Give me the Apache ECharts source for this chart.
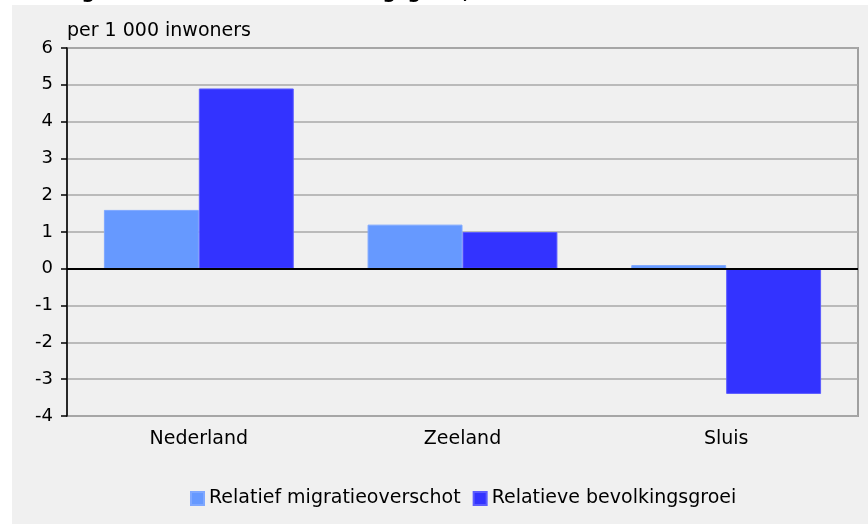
<!DOCTYPE html>
<html>
<head>
<meta charset="utf-8">
<script src="https://cdn.jsdelivr.net/npm/echarts@6/dist/echarts.min.js"></script>
<style>
  html, body { margin: 0; padding: 0; background: #ffffff; }
  .panel { position: absolute; left: 12px; top: 5px; width: 856px; height: 519px; background: #f0f0f0; }
  #chart { position: absolute; left: 0; top: 0; width: 868px; height: 524px; }
</style>
</head>
<body>
<div class="panel"></div>
<div id="chart"></div>
<script>
const categories = ['Nederland', 'Zeeland', 'Sluis'];
const migratieoverschot = [1.6, 1.2, 0.1];
const bevolkingsgroei = [4.9, 1.0, -3.4];
const seriesNames = ['Relatief migratieoverschot', 'Relatieve bevolkingsgroei'];
const titleText = 'Relatief migratieoverschot en bevolkingsgroei, 2009';
const unitText = 'per 1 000 inwoners';

const font = '"DejaVu Sans", "Liberation Sans", Arial, sans-serif';

const chart = echarts.init(document.getElementById('chart'));

chart.setOption({
  backgroundColor: 'transparent',
  animation: false,
  textStyle: { fontFamily: font, color: '#000' },
  title: [
    {
      text: titleText,
      left: -35,
      top: -16,
      padding: 0,
      textStyle: { fontFamily: font, fontSize: 19, fontWeight: 'bold', color: '#000', lineHeight: 19 }
    },
    {
      text: unitText,
      left: 67,
      top: 21,
      padding: 0,
      textStyle: { fontFamily: font, fontSize: 19, fontWeight: 'normal', color: '#000', lineHeight: 20 }
    }
  ],
  legend: {
    left: 190,
    top: 489,
    itemWidth: 13,
    itemHeight: 13,
    itemGap: 12,
    padding: 0,
    icon: 'rect',
    textStyle: { fontFamily: font, fontSize: 19, color: '#000', padding: [0, 0, 0, 0] },
    data: seriesNames
  },
  grid: {
    left: 67,
    right: 10,
    top: 48,
    bottom: 108,
    show: true,
    borderColor: '#a0a0a0',
    borderWidth: 2,
    backgroundColor: 'transparent'
  },
  xAxis: {
    type: 'category',
    data: categories,
    position: 'bottom',
    axisLine: { show: false, onZero: false },
    axisTick: { show: false },
    axisLabel: { fontFamily: font, fontSize: 19, color: '#000', margin: 14 }
  },
  yAxis: {
    type: 'value',
    min: -4,
    max: 6,
    interval: 1,
    axisLine: { show: true, lineStyle: { color: '#000', width: 1.5 } },
    axisTick: { show: true, length: 6, lineStyle: { color: '#000', width: 1.5 } },
    axisLabel: { fontFamily: font, fontSize: 18, color: '#000', margin: 14 },
    splitLine: { show: true, lineStyle: { color: '#a8a8a8', width: 1.5 } }
  },
  series: [
    {
      name: seriesNames[0],
      type: 'bar',
      barGap: '0%',
      barCategoryGap: '28%',
      itemStyle: { color: '#6699ff', borderColor: '#7fa8ff', borderWidth: 1 },
      data: migratieoverschot,
      markLine: {
        silent: true,
        symbol: 'none',
        label: { show: false },
        lineStyle: { color: '#000', width: 2, type: 'solid' },
        data: [{ yAxis: 0 }]
      },
      z: 3
    },
    {
      name: seriesNames[1],
      type: 'bar',
      itemStyle: { color: '#3333ff', borderColor: '#5c5cff', borderWidth: 1 },
      data: bevolkingsgroei,
      z: 3
    }
  ]
});
</script>
</body>
</html>
